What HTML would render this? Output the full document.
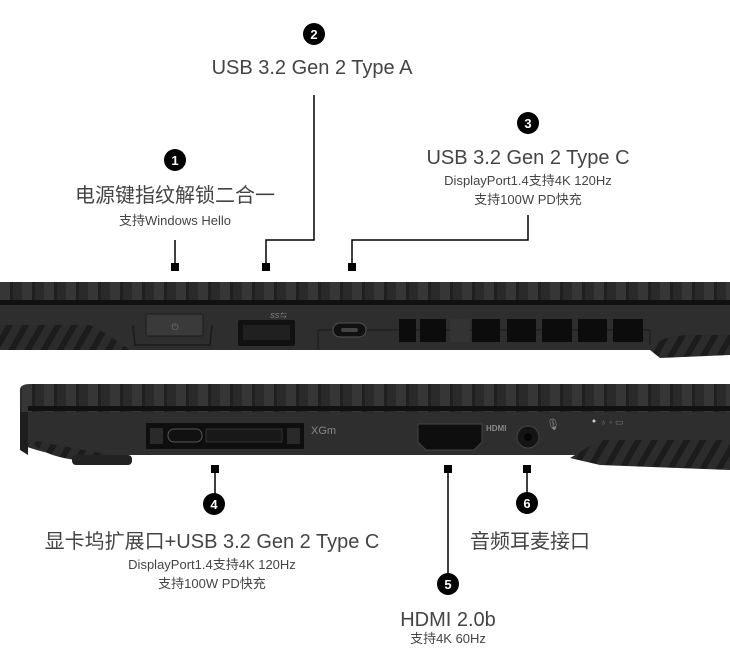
<!DOCTYPE html>
<html><head><meta charset="utf-8"><style>
html,body{margin:0;padding:0;background:#fff;width:730px;height:665px;overflow:hidden}
svg{display:block}
text{font-family:"Liberation Sans","Noto Sans CJK SC",sans-serif;fill:#444}
.b{font-size:20px}.s{font-size:13px}
.n{fill:#fff;font-size:13px;font-weight:bold}
</style></head><body>
<svg width="730" height="665" viewBox="0 0 730 665">
<defs>
<pattern id="rib" x="0" y="0" width="22" height="30" patternUnits="userSpaceOnUse">
<rect width="22" height="30" fill="#2a2a2a"/>
<rect x="0" width="10" height="30" fill="#363636"/>
<rect x="10" width="3" height="30" fill="#202020"/>
</pattern>
<pattern id="diag" width="14" height="14" patternUnits="userSpaceOnUse" patternTransform="rotate(30)">
<rect width="14" height="14" fill="#2c2c2c"/><rect width="6" height="14" fill="#1c1c1c"/>
</pattern>
</defs>

<rect x="0" y="282" width="730" height="19" fill="url(#rib)"/>
<rect x="0" y="300" width="730" height="5" fill="#111"/>
<rect x="0" y="305" width="730" height="45" fill="#2e2e2e"/>
<path d="M0 325 L90 325 Q110 335 130 350 L0 350Z" fill="url(#diag)"/>
<path d="M650 350 Q660 335 690 335 L730 335 L730 355 L660 358Z" fill="url(#diag)"/>
<path d="M133 325 L135 345 L210 345 L212 325" fill="none" stroke="#1a1a1a" stroke-width="1.5"/>
<rect x="146" y="314" width="57" height="22" rx="2" fill="#3a3a3a" stroke="#1c1c1c"/>
<text x="175" y="330" font-size="9" text-anchor="middle" style="fill:#777">⏻</text>
<rect x="238" y="320" width="57" height="26" rx="2" fill="#111"/>
<rect x="243" y="325" width="47" height="15" fill="#202020"/>
<text x="270" y="318" font-size="7" font-style="italic" style="fill:#888">SS⇆</text>
<path d="M318 350 L318 330 L650 330 L650 345" fill="none" stroke="#1a1a1a"/>
<rect x="333" y="323" width="33" height="14" rx="7" fill="#111" stroke="#555"/>
<rect x="341" y="328" width="17" height="4" rx="2" fill="#444"/>
<g fill="#0c0c0c">
<rect x="399" y="319" width="17" height="23"/><rect x="420" y="319" width="26" height="23"/>
<rect x="472" y="319" width="28" height="23"/><rect x="507" y="319" width="29" height="23"/>
<rect x="542" y="319" width="30" height="23"/><rect x="578" y="319" width="29" height="23"/>
<rect x="613" y="319" width="30" height="23"/></g>
<rect x="450" y="319" width="20" height="23" fill="#333"/>

<path d="M20 390 Q20 384 30 384 L730 384 L730 412 L20 412Z" fill="url(#rib)"/>
<rect x="28" y="406" width="702" height="5" fill="#111"/>
<path d="M22 412 L730 412 L730 455 L620 455 Q600 448 580 455 L100 455 Q60 460 22 445Z" fill="#2e2e2e"/>
<path d="M20 412 L28 412 L28 455 L20 450Z" fill="#1e1e1e"/>
<path d="M570 458 L600 440 L730 440 L730 470 L600 465Z" fill="url(#diag)"/>
<path d="M30 440 Q40 455 75 460 L130 462 L100 453Z" fill="url(#diag)"/>
<rect x="72" y="455" width="60" height="10" rx="4" fill="#222"/>
<rect x="146" y="423" width="158" height="26" fill="#0e0e0e"/>
<rect x="150" y="428" width="13" height="16" fill="#2a2a2a"/>
<rect x="287" y="428" width="13" height="16" fill="#2a2a2a"/>
<rect x="168" y="429" width="34" height="13" rx="6" fill="#111" stroke="#555"/>
<rect x="206" y="429" width="76" height="13" fill="#181818" stroke="#333"/>
<text x="311" y="434" font-size="11" style="fill:#888">XGm</text>
<path d="M418 424 L482 424 L482 442 L474 450 L426 450 L418 442Z" fill="#0e0e0e" stroke="#444"/>
<text x="486" y="431" font-size="8" font-weight="bold" style="fill:#888">HDMI</text>
<circle cx="528" cy="437" r="11" fill="#151515" stroke="#444"/>
<circle cx="528" cy="437" r="4" fill="#050505"/>
<text x="546" y="428" font-size="11" style="fill:#888">🎙</text>
<circle cx="594" cy="421" r="1.5" fill="#ccc"/>
<text x="600" y="425" font-size="9" style="fill:#777">♁ ◦ ▭</text>

<g stroke="#000" stroke-width="1.5" fill="none">
<path d="M175 240 V266"/>
<path d="M314 95 V240 H266 V266"/>
<path d="M528 215 V240 H352 V266"/>
<path d="M215 469 V494"/>
<path d="M448 469 V574"/>
<path d="M527 469 V494"/>
</g>
<g fill="#000">
<rect x="171" y="263" width="8" height="8"/><rect x="262" y="263" width="8" height="8"/><rect x="348" y="263" width="8" height="8"/>
<rect x="211" y="465" width="8" height="8"/><rect x="444" y="465" width="8" height="8"/><rect x="523" y="465" width="8" height="8"/>
<circle cx="175" cy="160" r="11"/><circle cx="314" cy="34" r="11"/><circle cx="528" cy="123" r="11"/>
<circle cx="214" cy="504" r="11"/><circle cx="448" cy="584" r="11"/><circle cx="527" cy="503" r="11"/>
</g>
<g text-anchor="middle">
<text class="n" x="175" y="165">1</text><text class="n" x="314" y="39">2</text><text class="n" x="528" y="128">3</text>
<text class="n" x="214" y="509">4</text><text class="n" x="448" y="589">5</text><text class="n" x="527" y="508">6</text>
<text class="b" x="175" y="202">电源键指纹解锁二合一</text>
<text class="s" x="175" y="225">支持Windows Hello</text>
<text class="b" x="312" y="74">USB 3.2 Gen 2 Type A</text>
<text class="b" x="528" y="164">USB 3.2 Gen 2 Type C</text>
<text class="s" x="528" y="185">DisplayPort1.4支持4K 120Hz</text>
<text class="s" x="528" y="204">支持100W PD快充</text>
<text class="b" x="212" y="548">显卡坞扩展口+USB 3.2 Gen 2 Type C</text>
<text class="s" x="212" y="569">DisplayPort1.4支持4K 120Hz</text>
<text class="s" x="212" y="588">支持100W PD快充</text>
<text class="b" x="530" y="548">音频耳麦接口</text>
<text class="b" x="448" y="626">HDMI 2.0b</text>
<text class="s" x="448" y="643">支持4K 60Hz</text>
</g>
</svg>
</body></html>
